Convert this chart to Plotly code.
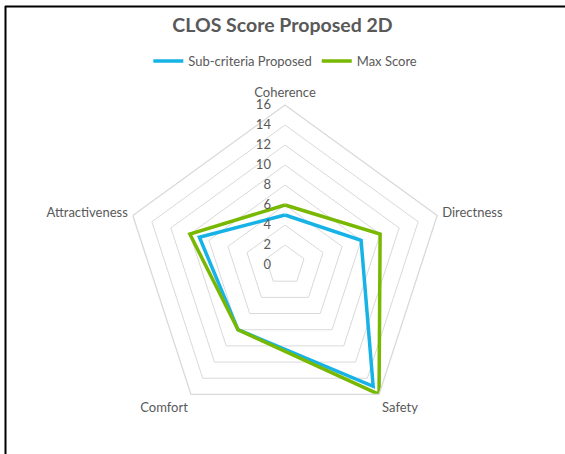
import plotly.graph_objects as go

categories = ["Coherence", "Directness", "Safety", "Comfort", "Attractiveness"]
proposed = [5, 8, 15, 8, 9]
max_score = [6, 10, 16, 8, 10]
radial_ticks = [0, 2, 4, 6, 8, 10, 12, 14, 16]

W, H = 565, 454
cx, cy, R = 285, 265, 160

text_color = "#595959"
grid_color = "#D9D9D9"
font_family = "Lato, 'Open Sans', sans-serif"


def closed(vals):
    return list(vals) + [vals[0]]


fig = go.Figure()
fig.add_trace(go.Scatterpolar(
    r=closed(proposed), theta=closed(categories),
    mode="lines", name="Sub-criteria Proposed",
    line=dict(color="#17B3E6", width=3.5),
))
fig.add_trace(go.Scatterpolar(
    r=closed(max_score), theta=closed(categories),
    mode="lines", name="Max Score",
    line=dict(color="#78B800", width=3.5),
))

fig.update_layout(
    width=W, height=H,
    margin=dict(l=0, r=0, t=0, b=0),
    paper_bgcolor="white",
    plot_bgcolor="white",
    font=dict(family=font_family, color=text_color, size=13),
    title=dict(
        text="<b>CLOS Score Proposed 2D</b>",
        x=0.5, xanchor="center", y=1 - 25 / H, yanchor="middle",
        font=dict(size=19.5, color=text_color, family=font_family),
    ),
    legend=dict(
        orientation="h", x=0.505, xanchor="center", y=1 - 61 / H, yanchor="middle",
        font=dict(size=13, color=text_color), itemwidth=30,
        bgcolor="rgba(0,0,0,0)",
    ),
    polar=dict(
        domain=dict(x=[(cx - R) / W, (cx + R) / W],
                    y=[(H - cy - R) / H, (H - cy + R) / H]),
        gridshape="linear",
        bgcolor="white",
        radialaxis=dict(
            range=[0, 16], tickvals=radial_ticks,
            angle=90, tickangle=90, side="counterclockwise",
            showline=False, ticks="outside", ticklen=9, tickcolor="rgba(0,0,0,0)",
            gridcolor=grid_color, gridwidth=1.3,
            tickfont=dict(size=13, color=text_color),
        ),
        angularaxis=dict(
            direction="clockwise", rotation=90,
            showgrid=False, showline=True, linecolor=grid_color, linewidth=1.3,
            ticks="outside", ticklen=2, tickcolor="rgba(0,0,0,0)",
            tickfont=dict(size=13, color=text_color),
        ),
    ),
    shapes=[
        dict(type="line", xref="paper", yref="paper",
             x0=5 / W, x1=1, y0=1 - 6.5 / H, y1=1 - 6.5 / H,
             line=dict(color="black", width=2)),
        dict(type="line", xref="paper", yref="paper",
             x0=5.5 / W, x1=5.5 / W, y0=0, y1=1 - 6 / H,
             line=dict(color="black", width=2)),
    ],
)

fig.write_html("out.html")
